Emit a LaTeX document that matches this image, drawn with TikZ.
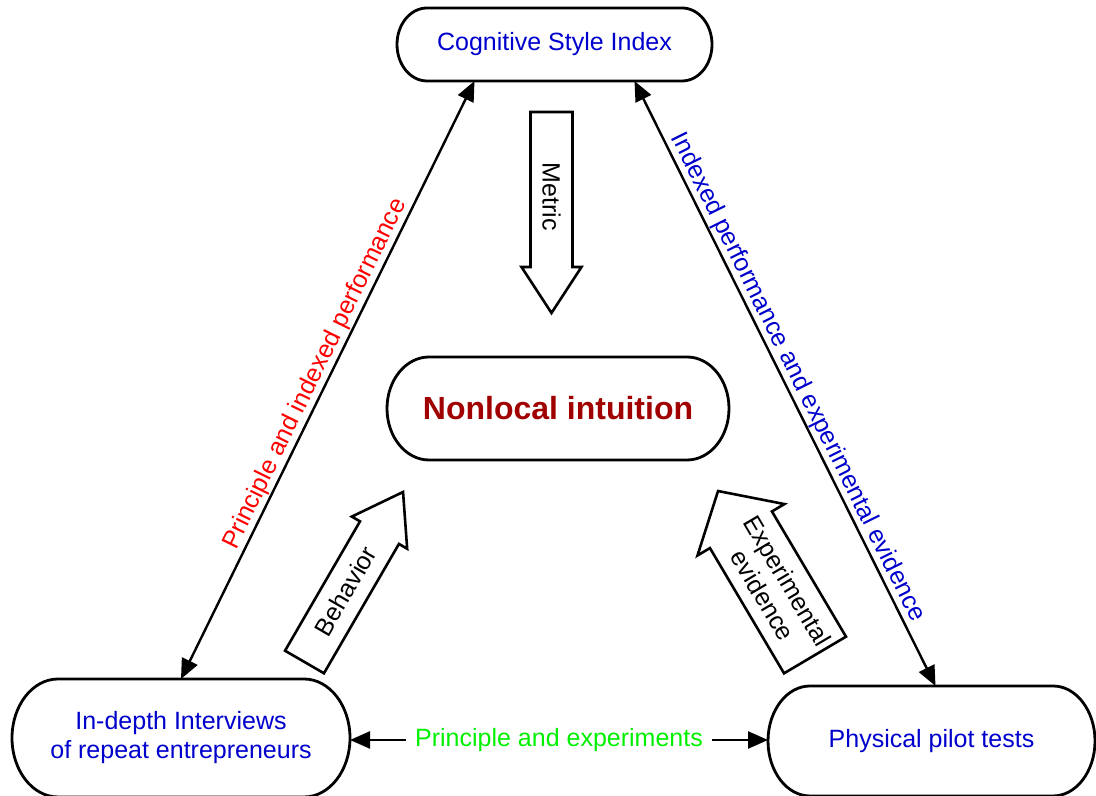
\documentclass[tikz,border=0pt]{standalone}
\usepackage{fontspec}
\setmainfont{Liberation Sans}
\usetikzlibrary{arrows.meta,calc}
\definecolor{idxblue}{RGB}{0,0,204}
\definecolor{corered}{RGB}{160,0,0}
\definecolor{pegreen}{RGB}{0,240,0}

% outline of a terminator node: straight top and bottom, elliptic ends
% #1 node name, #2 x radius of the ends, #3 half height of the node
\newcommand\termoutline[3]{%
  \draw[border] ([xshift=#2]#1.north west) -- ([xshift=-#2]#1.north east)
    arc[start angle=90,end angle=-90,x radius=#2,y radius=#3]
    -- ([xshift=#2]#1.south west)
    arc[start angle=270,end angle=90,x radius=#2,y radius=#3] -- cycle;}

\begin{document}
\begin{tikzpicture}[x=0.5pt,y=0.5pt,
  lbl/.style={font=\fontsize{12.5}{14.5}\selectfont},
  term/.style={rectangle, draw=none, outer sep=0pt, inner sep=0pt, align=center, lbl},
  border/.style={line width=1.4pt},
  link/.style={line width=1.2pt, {Triangle[length=10pt,width=8.5pt]}-{Triangle[length=10pt,width=8.5pt]}},
  halflink/.style={line width=1.2pt, -{Triangle[length=10pt,width=8.5pt]}},
  blockarrow/.style={line width=1.3pt, fill=white, line join=miter},
]
\useasboundingbox (0,0) rectangle (1096,796);

% main nodes
\node[term, minimum width=157.5pt, minimum height=36.5pt, text=idxblue] (csi) at (554.5,751.5) {Cognitive Style Index};
\node[term, minimum width=171pt, minimum height=51.5pt, text=corered,
      font=\bfseries\fontsize{16}{19}\selectfont] (nl) at (558,387.5) {Nonlocal intuition};
\node[term, minimum width=169pt, minimum height=59pt, text=idxblue] (in) at (181,58) {In-depth Interviews\\of repeat entrepreneurs};
\node[term, minimum width=163.5pt, minimum height=55pt, text=idxblue] (pp) at (931.5,55) {Physical pilot tests};

\termoutline{csi}{15pt}{18.25pt}
\termoutline{nl}{21pt}{25.75pt}
\termoutline{in}{23pt}{29.5pt}
\termoutline{pp}{21pt}{27.5pt}

% connectors between the outer nodes
\draw[link] (in.north) -- node[sloped, above, inner sep=0.5pt, text=red, lbl]
  {Principle and indexed performance} ([xshift=-40pt]csi.south);
\draw[link] ([xshift=40pt]csi.south) -- node[sloped, above, inner sep=0.5pt, text=idxblue, lbl]
  {Indexed performance and experimental evidence} ([xshift=2pt]pp.north);

\node[lbl, text=pegreen, inner sep=4.5pt] (pe) at (559,56) {Principle and experiments};
\draw[halflink] (pe.west) -- (pe.west -| in.east);
\draw[halflink] (pe.east) -- (pe.east -| pp.west);

% block arrows toward the central node
\begin{scope}[shift={(551.5,684)}, rotate=-90]
  \draw[blockarrow] (0,-21) -- (155,-21) -- (155,-30) -- (201,0) -- (155,30) -- (155,21) -- (0,21) -- cycle;
  \node[lbl, rotate=-90] (metric) at (85,0) {Metric};
\end{scope}

\begin{scope}[shift={(304.5,134)}, rotate=59.9]
  \draw[blockarrow] (0,-22.5) -- (149.5,-22.5) -- (149.5,-32) -- (196.5,0) -- (149.5,32) -- (149.5,22.5) -- (0,22.5) -- cycle;
  \node[lbl, rotate=59.9] (behavior) at (82,0) {Behavior};
\end{scope}

\begin{scope}[shift={(815,141)}, rotate=120.6]
  \draw[blockarrow] (0,-36) -- (145.5,-36) -- (145.5,-50.5) -- (190.5,0) -- (145.5,50.5) -- (145.5,36) -- (0,36) -- cycle;
  \node[lbl, rotate=-59.4, align=center] (evidence) at (78,0) {Experimental\\evidence};
\end{scope}
\end{tikzpicture}
\end{document}
